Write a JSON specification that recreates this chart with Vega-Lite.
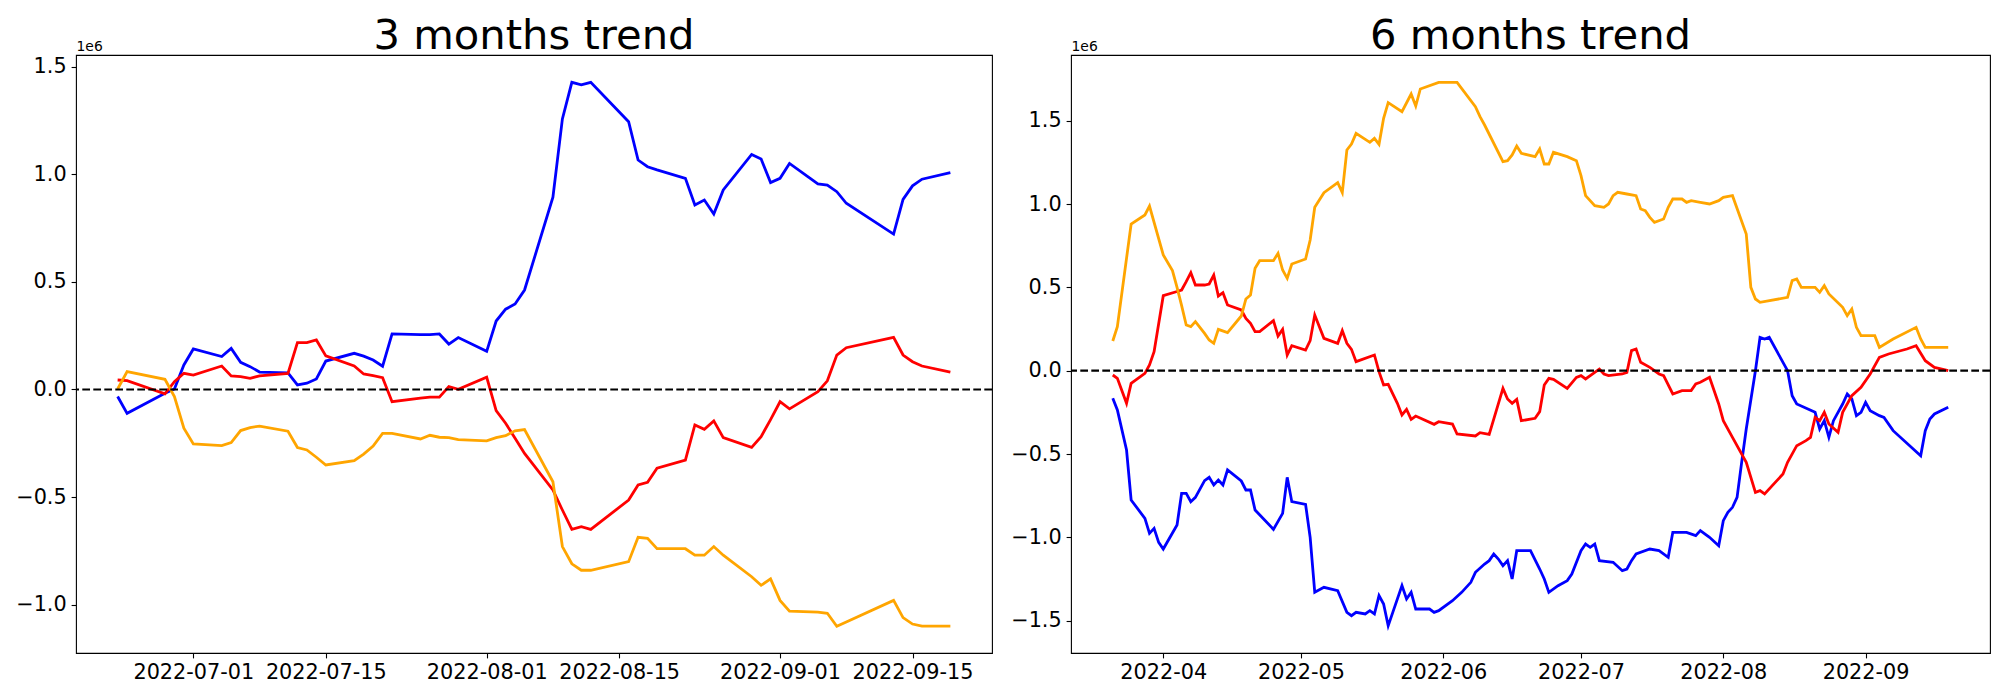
{
  "$schema": "https://vega.github.io/schema/vega-lite/v6.json",
  "background": "white",
  "padding": {"left": 15, "top": 15, "right": 0, "bottom": 0},
  "autosize": {"type": "pad"},
  "config": {
    "font": "DejaVu Sans",
    "view": {"stroke": "black", "strokeWidth": 1.1},
    "axis": {"grid": false, "domain": false, "tickColor": "black", "tickWidth": 1.1, "tickSize": 4.9, "labelFontSize": 20.8, "labelColor": "black", "labelPadding": 4.9, "labelFont": "DejaVu Sans", "labelFlush": false, "labelOverlap": false},
    "title": {"fontSize": 41.7, "fontWeight": "normal", "color": "black", "font": "DejaVu Sans", "anchor": "middle", "baseline": "alphabetic", "offset": -19},
    "concat": {"spacing": 16}
  },
  "datasets": {
    "three_months": [
      {"date": "2022-06-23", "blue": -33000, "red": 44000, "orange": 2000},
      {"date": "2022-06-24", "blue": -111000, "red": 41000, "orange": 83000},
      {"date": "2022-06-28", "blue": -18000, "red": -20000, "orange": 47000},
      {"date": "2022-06-29", "blue": 2000, "red": 36000, "orange": -33000},
      {"date": "2022-06-30", "blue": 114000, "red": 75000, "orange": -180000},
      {"date": "2022-07-01", "blue": 188000, "red": 67000, "orange": -253000},
      {"date": "2022-07-04", "blue": 153000, "red": 109000, "orange": -261000},
      {"date": "2022-07-05", "blue": 191000, "red": 63000, "orange": -247000},
      {"date": "2022-07-06", "blue": 126000, "red": 60000, "orange": -191000},
      {"date": "2022-07-07", "blue": 106000, "red": 52000, "orange": -177000},
      {"date": "2022-07-08", "blue": 81000, "red": 63000, "orange": -170000},
      {"date": "2022-07-11", "blue": 77000, "red": 75000, "orange": -194000},
      {"date": "2022-07-12", "blue": 21000, "red": 218000, "orange": -270000},
      {"date": "2022-07-13", "blue": 29000, "red": 218000, "orange": -281000},
      {"date": "2022-07-14", "blue": 49000, "red": 230000, "orange": -315000},
      {"date": "2022-07-15", "blue": 132000, "red": 156000, "orange": -351000},
      {"date": "2022-07-18", "blue": 168000, "red": 109000, "orange": -331000},
      {"date": "2022-07-19", "blue": 155000, "red": 72000, "orange": -300000},
      {"date": "2022-07-20", "blue": 137000, "red": 64000, "orange": -263000},
      {"date": "2022-07-21", "blue": 108000, "red": 55000, "orange": -204000},
      {"date": "2022-07-22", "blue": 258000, "red": -57000, "orange": -204000},
      {"date": "2022-07-25", "blue": 255000, "red": -40000, "orange": -230000},
      {"date": "2022-07-26", "blue": 255000, "red": -36000, "orange": -213000},
      {"date": "2022-07-27", "blue": 258000, "red": -36000, "orange": -222000},
      {"date": "2022-07-28", "blue": 211000, "red": 13000, "orange": -224000},
      {"date": "2022-07-29", "blue": 241000, "red": 1000, "orange": -233000},
      {"date": "2022-08-01", "blue": 177000, "red": 57000, "orange": -239000},
      {"date": "2022-08-02", "blue": 318000, "red": -98000, "orange": -224000},
      {"date": "2022-08-03", "blue": 373000, "red": -157000, "orange": -215000},
      {"date": "2022-08-04", "blue": 397000, "red": -227000, "orange": -192000},
      {"date": "2022-08-05", "blue": 462000, "red": -297000, "orange": -186000},
      {"date": "2022-08-08", "blue": 893000, "red": -467000, "orange": -429000},
      {"date": "2022-08-09", "blue": 1257000, "red": -560000, "orange": -730000},
      {"date": "2022-08-10", "blue": 1427000, "red": -650000, "orange": -810000},
      {"date": "2022-08-11", "blue": 1415000, "red": -638000, "orange": -840000},
      {"date": "2022-08-12", "blue": 1427000, "red": -650000, "orange": -840000},
      {"date": "2022-08-16", "blue": 1244000, "red": -514000, "orange": -800000},
      {"date": "2022-08-17", "blue": 1066000, "red": -444000, "orange": -687000},
      {"date": "2022-08-18", "blue": 1035000, "red": -431000, "orange": -692000},
      {"date": "2022-08-19", "blue": 1020000, "red": -366000, "orange": -740000},
      {"date": "2022-08-22", "blue": 981000, "red": -328000, "orange": -740000},
      {"date": "2022-08-23", "blue": 857000, "red": -165000, "orange": -770000},
      {"date": "2022-08-24", "blue": 880000, "red": -185000, "orange": -770000},
      {"date": "2022-08-25", "blue": 815000, "red": -146000, "orange": -730000},
      {"date": "2022-08-26", "blue": 927000, "red": -224000, "orange": -770000},
      {"date": "2022-08-29", "blue": 1092000, "red": -269000, "orange": -870000},
      {"date": "2022-08-30", "blue": 1071000, "red": -219000, "orange": -910000},
      {"date": "2022-08-31", "blue": 961000, "red": -140000, "orange": -880000},
      {"date": "2022-09-01", "blue": 981000, "red": -57000, "orange": -980000},
      {"date": "2022-09-02", "blue": 1050000, "red": -90000, "orange": -1030000},
      {"date": "2022-09-05", "blue": 955000, "red": -10000, "orange": -1035000},
      {"date": "2022-09-06", "blue": 950000, "red": 40000, "orange": -1040000},
      {"date": "2022-09-07", "blue": 919000, "red": 160000, "orange": -1100000},
      {"date": "2022-09-08", "blue": 865000, "red": 194000, "orange": -1080000},
      {"date": "2022-09-13", "blue": 722000, "red": 242000, "orange": -980000},
      {"date": "2022-09-14", "blue": 883000, "red": 160000, "orange": -1060000},
      {"date": "2022-09-15", "blue": 946000, "red": 129000, "orange": -1090000},
      {"date": "2022-09-16", "blue": 977000, "red": 109000, "orange": -1100000},
      {"date": "2022-09-19", "blue": 1007000, "red": 80000, "orange": -1100000}
    ],
    "six_months": [
      {"date": "2022-03-21", "series": "blue", "value": -166000},
      {"date": "2022-03-22", "series": "blue", "value": -236000},
      {"date": "2022-03-24", "series": "blue", "value": -476000},
      {"date": "2022-03-25", "series": "blue", "value": -776000},
      {"date": "2022-03-28", "series": "blue", "value": -886000},
      {"date": "2022-03-29", "series": "blue", "value": -976000},
      {"date": "2022-03-30", "series": "blue", "value": -946000},
      {"date": "2022-03-31", "series": "blue", "value": -1030000},
      {"date": "2022-04-01", "series": "blue", "value": -1070000},
      {"date": "2022-04-04", "series": "blue", "value": -926000},
      {"date": "2022-04-05", "series": "blue", "value": -736000},
      {"date": "2022-04-06", "series": "blue", "value": -736000},
      {"date": "2022-04-07", "series": "blue", "value": -786000},
      {"date": "2022-04-08", "series": "blue", "value": -760000},
      {"date": "2022-04-10", "series": "blue", "value": -660000},
      {"date": "2022-04-11", "series": "blue", "value": -640000},
      {"date": "2022-04-12", "series": "blue", "value": -686000},
      {"date": "2022-04-13", "series": "blue", "value": -656000},
      {"date": "2022-04-14", "series": "blue", "value": -686000},
      {"date": "2022-04-15", "series": "blue", "value": -596000},
      {"date": "2022-04-18", "series": "blue", "value": -662000},
      {"date": "2022-04-19", "series": "blue", "value": -716000},
      {"date": "2022-04-20", "series": "blue", "value": -716000},
      {"date": "2022-04-21", "series": "blue", "value": -836000},
      {"date": "2022-04-25", "series": "blue", "value": -952000},
      {"date": "2022-04-27", "series": "blue", "value": -856000},
      {"date": "2022-04-28", "series": "blue", "value": -640000},
      {"date": "2022-04-29", "series": "blue", "value": -786000},
      {"date": "2022-05-02", "series": "blue", "value": -802000},
      {"date": "2022-05-03", "series": "blue", "value": -1000000},
      {"date": "2022-05-04", "series": "blue", "value": -1330000},
      {"date": "2022-05-06", "series": "blue", "value": -1300000},
      {"date": "2022-05-09", "series": "blue", "value": -1320000},
      {"date": "2022-05-11", "series": "blue", "value": -1450000},
      {"date": "2022-05-12", "series": "blue", "value": -1470000},
      {"date": "2022-05-13", "series": "blue", "value": -1450000},
      {"date": "2022-05-15", "series": "blue", "value": -1460000},
      {"date": "2022-05-16", "series": "blue", "value": -1440000},
      {"date": "2022-05-17", "series": "blue", "value": -1460000},
      {"date": "2022-05-18", "series": "blue", "value": -1350000},
      {"date": "2022-05-19", "series": "blue", "value": -1400000},
      {"date": "2022-05-20", "series": "blue", "value": -1530000},
      {"date": "2022-05-21", "series": "blue", "value": -1450000},
      {"date": "2022-05-23", "series": "blue", "value": -1290000},
      {"date": "2022-05-24", "series": "blue", "value": -1370000},
      {"date": "2022-05-25", "series": "blue", "value": -1330000},
      {"date": "2022-05-26", "series": "blue", "value": -1430000},
      {"date": "2022-05-29", "series": "blue", "value": -1430000},
      {"date": "2022-05-30", "series": "blue", "value": -1450000},
      {"date": "2022-05-31", "series": "blue", "value": -1440000},
      {"date": "2022-06-03", "series": "blue", "value": -1380000},
      {"date": "2022-06-05", "series": "blue", "value": -1330000},
      {"date": "2022-06-07", "series": "blue", "value": -1270000},
      {"date": "2022-06-08", "series": "blue", "value": -1210000},
      {"date": "2022-06-10", "series": "blue", "value": -1160000},
      {"date": "2022-06-11", "series": "blue", "value": -1140000},
      {"date": "2022-06-12", "series": "blue", "value": -1100000},
      {"date": "2022-06-13", "series": "blue", "value": -1130000},
      {"date": "2022-06-14", "series": "blue", "value": -1170000},
      {"date": "2022-06-15", "series": "blue", "value": -1140000},
      {"date": "2022-06-16", "series": "blue", "value": -1250000},
      {"date": "2022-06-17", "series": "blue", "value": -1080000},
      {"date": "2022-06-20", "series": "blue", "value": -1080000},
      {"date": "2022-06-22", "series": "blue", "value": -1190000},
      {"date": "2022-06-23", "series": "blue", "value": -1250000},
      {"date": "2022-06-24", "series": "blue", "value": -1330000},
      {"date": "2022-06-26", "series": "blue", "value": -1290000},
      {"date": "2022-06-28", "series": "blue", "value": -1260000},
      {"date": "2022-06-29", "series": "blue", "value": -1220000},
      {"date": "2022-07-01", "series": "blue", "value": -1080000},
      {"date": "2022-07-02", "series": "blue", "value": -1040000},
      {"date": "2022-07-03", "series": "blue", "value": -1060000},
      {"date": "2022-07-04", "series": "blue", "value": -1040000},
      {"date": "2022-07-05", "series": "blue", "value": -1140000},
      {"date": "2022-07-08", "series": "blue", "value": -1150000},
      {"date": "2022-07-10", "series": "blue", "value": -1200000},
      {"date": "2022-07-11", "series": "blue", "value": -1190000},
      {"date": "2022-07-12", "series": "blue", "value": -1140000},
      {"date": "2022-07-13", "series": "blue", "value": -1100000},
      {"date": "2022-07-16", "series": "blue", "value": -1070000},
      {"date": "2022-07-18", "series": "blue", "value": -1080000},
      {"date": "2022-07-20", "series": "blue", "value": -1120000},
      {"date": "2022-07-21", "series": "blue", "value": -970000},
      {"date": "2022-07-24", "series": "blue", "value": -970000},
      {"date": "2022-07-26", "series": "blue", "value": -990000},
      {"date": "2022-07-27", "series": "blue", "value": -960000},
      {"date": "2022-07-29", "series": "blue", "value": -1000000},
      {"date": "2022-07-31", "series": "blue", "value": -1050000},
      {"date": "2022-08-01", "series": "blue", "value": -900000},
      {"date": "2022-08-02", "series": "blue", "value": -850000},
      {"date": "2022-08-03", "series": "blue", "value": -820000},
      {"date": "2022-08-04", "series": "blue", "value": -760000},
      {"date": "2022-08-05", "series": "blue", "value": -550000},
      {"date": "2022-08-06", "series": "blue", "value": -350000},
      {"date": "2022-08-08", "series": "blue", "value": 0},
      {"date": "2022-08-09", "series": "blue", "value": 200000},
      {"date": "2022-08-10", "series": "blue", "value": 190000},
      {"date": "2022-08-11", "series": "blue", "value": 200000},
      {"date": "2022-08-15", "series": "blue", "value": 0},
      {"date": "2022-08-16", "series": "blue", "value": -150000},
      {"date": "2022-08-17", "series": "blue", "value": -200000},
      {"date": "2022-08-21", "series": "blue", "value": -250000},
      {"date": "2022-08-22", "series": "blue", "value": -350000},
      {"date": "2022-08-23", "series": "blue", "value": -300000},
      {"date": "2022-08-24", "series": "blue", "value": -400000},
      {"date": "2022-08-25", "series": "blue", "value": -300000},
      {"date": "2022-08-27", "series": "blue", "value": -200000},
      {"date": "2022-08-28", "series": "blue", "value": -140000},
      {"date": "2022-08-29", "series": "blue", "value": -170000},
      {"date": "2022-08-30", "series": "blue", "value": -270000},
      {"date": "2022-08-31", "series": "blue", "value": -250000},
      {"date": "2022-09-01", "series": "blue", "value": -190000},
      {"date": "2022-09-02", "series": "blue", "value": -240000},
      {"date": "2022-09-04", "series": "blue", "value": -270000},
      {"date": "2022-09-05", "series": "blue", "value": -280000},
      {"date": "2022-09-07", "series": "blue", "value": -360000},
      {"date": "2022-09-13", "series": "blue", "value": -510000},
      {"date": "2022-09-14", "series": "blue", "value": -360000},
      {"date": "2022-09-15", "series": "blue", "value": -290000},
      {"date": "2022-09-16", "series": "blue", "value": -260000},
      {"date": "2022-09-19", "series": "blue", "value": -220000},

      {"date": "2022-03-21", "series": "red", "value": -26000},
      {"date": "2022-03-22", "series": "red", "value": -46000},
      {"date": "2022-03-24", "series": "red", "value": -196000},
      {"date": "2022-03-25", "series": "red", "value": -76000},
      {"date": "2022-03-28", "series": "red", "value": -16000},
      {"date": "2022-03-29", "series": "red", "value": 34000},
      {"date": "2022-03-30", "series": "red", "value": 114000},
      {"date": "2022-04-01", "series": "red", "value": 450000},
      {"date": "2022-04-04", "series": "red", "value": 475000},
      {"date": "2022-04-05", "series": "red", "value": 484000},
      {"date": "2022-04-06", "series": "red", "value": 534000},
      {"date": "2022-04-07", "series": "red", "value": 588000},
      {"date": "2022-04-08", "series": "red", "value": 514000},
      {"date": "2022-04-10", "series": "red", "value": 514000},
      {"date": "2022-04-11", "series": "red", "value": 520000},
      {"date": "2022-04-12", "series": "red", "value": 574000},
      {"date": "2022-04-13", "series": "red", "value": 448000},
      {"date": "2022-04-14", "series": "red", "value": 468000},
      {"date": "2022-04-15", "series": "red", "value": 394000},
      {"date": "2022-04-18", "series": "red", "value": 364000},
      {"date": "2022-04-19", "series": "red", "value": 314000},
      {"date": "2022-04-20", "series": "red", "value": 284000},
      {"date": "2022-04-21", "series": "red", "value": 234000},
      {"date": "2022-04-22", "series": "red", "value": 234000},
      {"date": "2022-04-25", "series": "red", "value": 300000},
      {"date": "2022-04-26", "series": "red", "value": 208000},
      {"date": "2022-04-27", "series": "red", "value": 248000},
      {"date": "2022-04-28", "series": "red", "value": 94000},
      {"date": "2022-04-29", "series": "red", "value": 150000},
      {"date": "2022-05-02", "series": "red", "value": 124000},
      {"date": "2022-05-03", "series": "red", "value": 180000},
      {"date": "2022-05-04", "series": "red", "value": 334000},
      {"date": "2022-05-06", "series": "red", "value": 194000},
      {"date": "2022-05-09", "series": "red", "value": 164000},
      {"date": "2022-05-10", "series": "red", "value": 240000},
      {"date": "2022-05-11", "series": "red", "value": 164000},
      {"date": "2022-05-12", "series": "red", "value": 128000},
      {"date": "2022-05-13", "series": "red", "value": 54000},
      {"date": "2022-05-17", "series": "red", "value": 94000},
      {"date": "2022-05-18", "series": "red", "value": -6000},
      {"date": "2022-05-19", "series": "red", "value": -86000},
      {"date": "2022-05-20", "series": "red", "value": -82000},
      {"date": "2022-05-22", "series": "red", "value": -196000},
      {"date": "2022-05-23", "series": "red", "value": -266000},
      {"date": "2022-05-24", "series": "red", "value": -232000},
      {"date": "2022-05-25", "series": "red", "value": -292000},
      {"date": "2022-05-26", "series": "red", "value": -272000},
      {"date": "2022-05-30", "series": "red", "value": -322000},
      {"date": "2022-05-31", "series": "red", "value": -306000},
      {"date": "2022-06-03", "series": "red", "value": -320000},
      {"date": "2022-06-04", "series": "red", "value": -380000},
      {"date": "2022-06-08", "series": "red", "value": -392000},
      {"date": "2022-06-09", "series": "red", "value": -372000},
      {"date": "2022-06-11", "series": "red", "value": -382000},
      {"date": "2022-06-14", "series": "red", "value": -106000},
      {"date": "2022-06-15", "series": "red", "value": -170000},
      {"date": "2022-06-16", "series": "red", "value": -196000},
      {"date": "2022-06-17", "series": "red", "value": -172000},
      {"date": "2022-06-18", "series": "red", "value": -300000},
      {"date": "2022-06-21", "series": "red", "value": -286000},
      {"date": "2022-06-22", "series": "red", "value": -246000},
      {"date": "2022-06-23", "series": "red", "value": -86000},
      {"date": "2022-06-24", "series": "red", "value": -46000},
      {"date": "2022-06-25", "series": "red", "value": -52000},
      {"date": "2022-06-28", "series": "red", "value": -106000},
      {"date": "2022-06-30", "series": "red", "value": -40000},
      {"date": "2022-07-01", "series": "red", "value": -30000},
      {"date": "2022-07-02", "series": "red", "value": -50000},
      {"date": "2022-07-04", "series": "red", "value": -10000},
      {"date": "2022-07-05", "series": "red", "value": 10000},
      {"date": "2022-07-06", "series": "red", "value": -20000},
      {"date": "2022-07-07", "series": "red", "value": -30000},
      {"date": "2022-07-10", "series": "red", "value": -20000},
      {"date": "2022-07-11", "series": "red", "value": -10000},
      {"date": "2022-07-12", "series": "red", "value": 120000},
      {"date": "2022-07-13", "series": "red", "value": 130000},
      {"date": "2022-07-14", "series": "red", "value": 50000},
      {"date": "2022-07-16", "series": "red", "value": 20000},
      {"date": "2022-07-18", "series": "red", "value": -20000},
      {"date": "2022-07-19", "series": "red", "value": -30000},
      {"date": "2022-07-21", "series": "red", "value": -140000},
      {"date": "2022-07-23", "series": "red", "value": -120000},
      {"date": "2022-07-25", "series": "red", "value": -120000},
      {"date": "2022-07-26", "series": "red", "value": -80000},
      {"date": "2022-07-27", "series": "red", "value": -70000},
      {"date": "2022-07-29", "series": "red", "value": -40000},
      {"date": "2022-07-31", "series": "red", "value": -200000},
      {"date": "2022-08-01", "series": "red", "value": -300000},
      {"date": "2022-08-03", "series": "red", "value": -400000},
      {"date": "2022-08-06", "series": "red", "value": -550000},
      {"date": "2022-08-08", "series": "red", "value": -730000},
      {"date": "2022-08-09", "series": "red", "value": -720000},
      {"date": "2022-08-10", "series": "red", "value": -740000},
      {"date": "2022-08-14", "series": "red", "value": -620000},
      {"date": "2022-08-15", "series": "red", "value": -550000},
      {"date": "2022-08-17", "series": "red", "value": -450000},
      {"date": "2022-08-19", "series": "red", "value": -420000},
      {"date": "2022-08-20", "series": "red", "value": -400000},
      {"date": "2022-08-21", "series": "red", "value": -280000},
      {"date": "2022-08-22", "series": "red", "value": -300000},
      {"date": "2022-08-23", "series": "red", "value": -250000},
      {"date": "2022-08-24", "series": "red", "value": -320000},
      {"date": "2022-08-26", "series": "red", "value": -370000},
      {"date": "2022-08-27", "series": "red", "value": -250000},
      {"date": "2022-08-29", "series": "red", "value": -150000},
      {"date": "2022-08-31", "series": "red", "value": -100000},
      {"date": "2022-09-02", "series": "red", "value": -20000},
      {"date": "2022-09-04", "series": "red", "value": 80000},
      {"date": "2022-09-06", "series": "red", "value": 100000},
      {"date": "2022-09-10", "series": "red", "value": 130000},
      {"date": "2022-09-12", "series": "red", "value": 150000},
      {"date": "2022-09-14", "series": "red", "value": 60000},
      {"date": "2022-09-16", "series": "red", "value": 20000},
      {"date": "2022-09-19", "series": "red", "value": 0},

      {"date": "2022-03-21", "series": "orange", "value": 178000},
      {"date": "2022-03-22", "series": "orange", "value": 264000},
      {"date": "2022-03-25", "series": "orange", "value": 880000},
      {"date": "2022-03-28", "series": "orange", "value": 934000},
      {"date": "2022-03-29", "series": "orange", "value": 988000},
      {"date": "2022-04-01", "series": "orange", "value": 694000},
      {"date": "2022-04-03", "series": "orange", "value": 600000},
      {"date": "2022-04-04", "series": "orange", "value": 500000},
      {"date": "2022-04-05", "series": "orange", "value": 390000},
      {"date": "2022-04-06", "series": "orange", "value": 274000},
      {"date": "2022-04-07", "series": "orange", "value": 264000},
      {"date": "2022-04-08", "series": "orange", "value": 294000},
      {"date": "2022-04-10", "series": "orange", "value": 224000},
      {"date": "2022-04-11", "series": "orange", "value": 184000},
      {"date": "2022-04-12", "series": "orange", "value": 164000},
      {"date": "2022-04-13", "series": "orange", "value": 248000},
      {"date": "2022-04-15", "series": "orange", "value": 228000},
      {"date": "2022-04-18", "series": "orange", "value": 328000},
      {"date": "2022-04-19", "series": "orange", "value": 430000},
      {"date": "2022-04-20", "series": "orange", "value": 454000},
      {"date": "2022-04-21", "series": "orange", "value": 614000},
      {"date": "2022-04-22", "series": "orange", "value": 660000},
      {"date": "2022-04-25", "series": "orange", "value": 660000},
      {"date": "2022-04-26", "series": "orange", "value": 704000},
      {"date": "2022-04-27", "series": "orange", "value": 604000},
      {"date": "2022-04-28", "series": "orange", "value": 554000},
      {"date": "2022-04-29", "series": "orange", "value": 640000},
      {"date": "2022-05-02", "series": "orange", "value": 670000},
      {"date": "2022-05-03", "series": "orange", "value": 784000},
      {"date": "2022-05-04", "series": "orange", "value": 980000},
      {"date": "2022-05-06", "series": "orange", "value": 1068000},
      {"date": "2022-05-09", "series": "orange", "value": 1128000},
      {"date": "2022-05-10", "series": "orange", "value": 1068000},
      {"date": "2022-05-11", "series": "orange", "value": 1324000},
      {"date": "2022-05-12", "series": "orange", "value": 1360000},
      {"date": "2022-05-13", "series": "orange", "value": 1424000},
      {"date": "2022-05-16", "series": "orange", "value": 1370000},
      {"date": "2022-05-17", "series": "orange", "value": 1394000},
      {"date": "2022-05-18", "series": "orange", "value": 1358000},
      {"date": "2022-05-19", "series": "orange", "value": 1514000},
      {"date": "2022-05-20", "series": "orange", "value": 1608000},
      {"date": "2022-05-23", "series": "orange", "value": 1554000},
      {"date": "2022-05-25", "series": "orange", "value": 1660000},
      {"date": "2022-05-26", "series": "orange", "value": 1588000},
      {"date": "2022-05-27", "series": "orange", "value": 1690000},
      {"date": "2022-05-31", "series": "orange", "value": 1730000},
      {"date": "2022-06-04", "series": "orange", "value": 1730000},
      {"date": "2022-06-08", "series": "orange", "value": 1584000},
      {"date": "2022-06-09", "series": "orange", "value": 1524000},
      {"date": "2022-06-10", "series": "orange", "value": 1474000},
      {"date": "2022-06-14", "series": "orange", "value": 1254000},
      {"date": "2022-06-15", "series": "orange", "value": 1260000},
      {"date": "2022-06-16", "series": "orange", "value": 1294000},
      {"date": "2022-06-17", "series": "orange", "value": 1348000},
      {"date": "2022-06-18", "series": "orange", "value": 1304000},
      {"date": "2022-06-21", "series": "orange", "value": 1284000},
      {"date": "2022-06-22", "series": "orange", "value": 1330000},
      {"date": "2022-06-23", "series": "orange", "value": 1240000},
      {"date": "2022-06-24", "series": "orange", "value": 1240000},
      {"date": "2022-06-25", "series": "orange", "value": 1310000},
      {"date": "2022-06-28", "series": "orange", "value": 1284000},
      {"date": "2022-06-30", "series": "orange", "value": 1260000},
      {"date": "2022-07-01", "series": "orange", "value": 1170000},
      {"date": "2022-07-02", "series": "orange", "value": 1050000},
      {"date": "2022-07-04", "series": "orange", "value": 990000},
      {"date": "2022-07-06", "series": "orange", "value": 980000},
      {"date": "2022-07-07", "series": "orange", "value": 1000000},
      {"date": "2022-07-08", "series": "orange", "value": 1050000},
      {"date": "2022-07-09", "series": "orange", "value": 1070000},
      {"date": "2022-07-11", "series": "orange", "value": 1060000},
      {"date": "2022-07-13", "series": "orange", "value": 1050000},
      {"date": "2022-07-14", "series": "orange", "value": 970000},
      {"date": "2022-07-15", "series": "orange", "value": 960000},
      {"date": "2022-07-16", "series": "orange", "value": 920000},
      {"date": "2022-07-17", "series": "orange", "value": 890000},
      {"date": "2022-07-19", "series": "orange", "value": 910000},
      {"date": "2022-07-20", "series": "orange", "value": 980000},
      {"date": "2022-07-21", "series": "orange", "value": 1030000},
      {"date": "2022-07-23", "series": "orange", "value": 1030000},
      {"date": "2022-07-24", "series": "orange", "value": 1010000},
      {"date": "2022-07-25", "series": "orange", "value": 1020000},
      {"date": "2022-07-27", "series": "orange", "value": 1010000},
      {"date": "2022-07-29", "series": "orange", "value": 1000000},
      {"date": "2022-07-31", "series": "orange", "value": 1020000},
      {"date": "2022-08-01", "series": "orange", "value": 1040000},
      {"date": "2022-08-03", "series": "orange", "value": 1050000},
      {"date": "2022-08-06", "series": "orange", "value": 820000},
      {"date": "2022-08-07", "series": "orange", "value": 500000},
      {"date": "2022-08-08", "series": "orange", "value": 430000},
      {"date": "2022-08-09", "series": "orange", "value": 410000},
      {"date": "2022-08-15", "series": "orange", "value": 440000},
      {"date": "2022-08-16", "series": "orange", "value": 540000},
      {"date": "2022-08-17", "series": "orange", "value": 550000},
      {"date": "2022-08-18", "series": "orange", "value": 500000},
      {"date": "2022-08-21", "series": "orange", "value": 500000},
      {"date": "2022-08-22", "series": "orange", "value": 470000},
      {"date": "2022-08-23", "series": "orange", "value": 510000},
      {"date": "2022-08-24", "series": "orange", "value": 460000},
      {"date": "2022-08-27", "series": "orange", "value": 380000},
      {"date": "2022-08-28", "series": "orange", "value": 330000},
      {"date": "2022-08-29", "series": "orange", "value": 370000},
      {"date": "2022-08-30", "series": "orange", "value": 260000},
      {"date": "2022-08-31", "series": "orange", "value": 210000},
      {"date": "2022-09-03", "series": "orange", "value": 210000},
      {"date": "2022-09-04", "series": "orange", "value": 140000},
      {"date": "2022-09-07", "series": "orange", "value": 190000},
      {"date": "2022-09-12", "series": "orange", "value": 260000},
      {"date": "2022-09-13", "series": "orange", "value": 190000},
      {"date": "2022-09-14", "series": "orange", "value": 140000},
      {"date": "2022-09-19", "series": "orange", "value": 140000}
    ],
    "zero_line": [{"value": 0}]
  },
  "hconcat": [
    {
      "width": 916,
      "height": 598,
      "title": {"text": "3 months trend"},
      "layer": [
        {
          "data": {"name": "three_months", "format": {"parse": {"date": "date:'%Y-%m-%d'"}}},
          "transform": [{"fold": ["blue", "red", "orange"], "as": ["series", "value"]}],
          "mark": {"type": "line", "strokeWidth": 2.8},
          "encoding": {
            "x": {"field": "date", "type": "temporal",
              "scale": {"domain": [{"year": 2022, "month": 6, "date": 18, "hours": 14, "minutes": 24}, {"year": 2022, "month": 9, "date": 23, "hours": 9, "minutes": 36}]},
              "axis": {"title": null, "format": "%Y-%m-%d", "labelAngle": 0,
                "values": [{"year": 2022, "month": 7, "date": 1}, {"year": 2022, "month": 7, "date": 15}, {"year": 2022, "month": 8, "date": 1}, {"year": 2022, "month": 8, "date": 15}, {"year": 2022, "month": 9, "date": 1}, {"year": 2022, "month": 9, "date": 15}]}},
            "y": {"field": "value", "type": "quantitative",
              "scale": {"domain": [-1224500, 1554000], "zero": false, "nice": false},
              "axis": {"values": [-1000000, -500000, 0, 500000, 1000000, 1500000], "labelExpr": "format(datum.value / 1000000, '.1f')",
                "title": "1e6", "titleAngle": 0, "titleAlign": "left", "titleBaseline": "alphabetic", "titleX": 0, "titleY": -5, "titleFontSize": 13.9, "titleFontWeight": "normal", "titleColor": "black", "titleFont": "DejaVu Sans"}},
            "color": {"field": "series", "type": "nominal", "scale": {"domain": ["blue", "red", "orange"], "range": ["#0000ff", "#ff0000", "#ffa500"]}, "legend": null}
          }
        },
        {
          "data": {"name": "zero_line"},
          "mark": {"type": "rule", "color": "black", "strokeWidth": 2.1, "strokeDash": [7.7, 3.3]},
          "encoding": {"y": {"field": "value", "type": "quantitative"}}
        }
      ]
    },
    {
      "width": 919,
      "height": 598,
      "title": {"text": "6 months trend"},
      "layer": [
        {
          "data": {"name": "six_months", "format": {"parse": {"date": "date:'%Y-%m-%d'"}}},
          "mark": {"type": "line", "strokeWidth": 2.8},
          "encoding": {
            "x": {"field": "date", "type": "temporal",
              "scale": {"domain": [{"year": 2022, "month": 3, "date": 11, "hours": 21, "minutes": 36}, {"year": 2022, "month": 9, "date": 28, "hours": 2, "minutes": 24}]},
              "axis": {"title": null, "format": "%Y-%m", "labelAngle": 0,
                "values": [{"year": 2022, "month": 4, "date": 1}, {"year": 2022, "month": 5, "date": 1}, {"year": 2022, "month": 6, "date": 1}, {"year": 2022, "month": 7, "date": 1}, {"year": 2022, "month": 8, "date": 1}, {"year": 2022, "month": 9, "date": 1}]}},
            "y": {"field": "value", "type": "quantitative",
              "scale": {"domain": [-1694000, 1894000], "zero": false, "nice": false},
              "axis": {"values": [-1500000, -1000000, -500000, 0, 500000, 1000000, 1500000], "labelExpr": "format(datum.value / 1000000, '.1f')",
                "title": "1e6", "titleAngle": 0, "titleAlign": "left", "titleBaseline": "alphabetic", "titleX": 0, "titleY": -5, "titleFontSize": 13.9, "titleFontWeight": "normal", "titleColor": "black", "titleFont": "DejaVu Sans"}},
            "color": {"field": "series", "type": "nominal", "scale": {"domain": ["blue", "red", "orange"], "range": ["#0000ff", "#ff0000", "#ffa500"]}, "legend": null}
          }
        },
        {
          "data": {"name": "zero_line"},
          "mark": {"type": "rule", "color": "black", "strokeWidth": 2.1, "strokeDash": [7.7, 3.3]},
          "encoding": {"y": {"field": "value", "type": "quantitative"}}
        }
      ]
    }
  ]
}
